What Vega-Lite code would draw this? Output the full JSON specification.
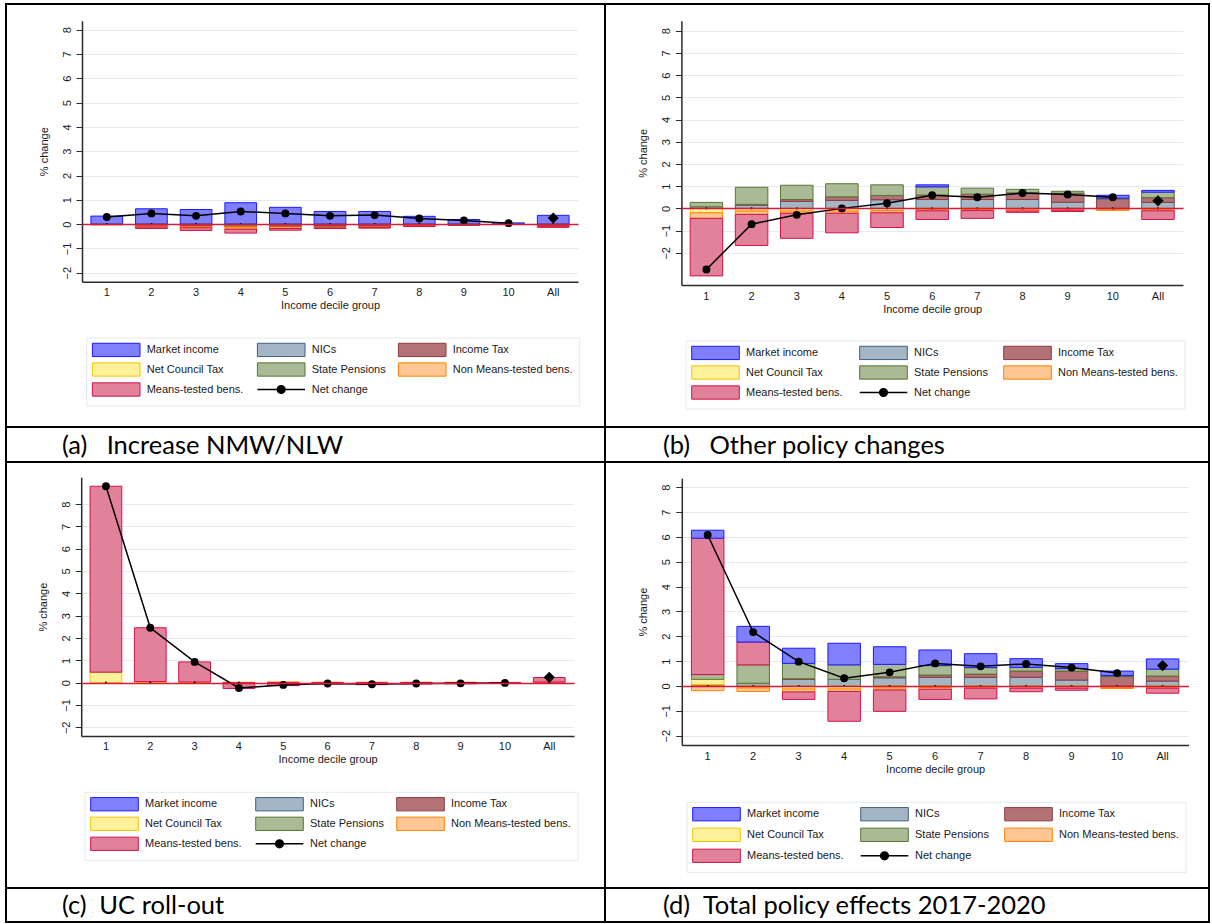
{
  "$schema": "https://vega.github.io/schema/vega-lite/v6.json",
  "background": "#ffffff",
  "padding": {"left": 5, "top": 3, "right": 0, "bottom": 0},
  "columns": 2,
  "spacing": 0,
  "bounds": "flush",
  "align": "each",
  "resolve": {"scale": {"fill": "independent", "stroke": "independent"}, "legend": {"fill": "independent", "stroke": "independent"}},
  "config": {
    "view": {"stroke": "#000000", "strokeWidth": 2},
    "font": "Liberation Sans",
    "axis": {
      "labelFont": "Liberation Sans", "labelFontSize": 11, "labelColor": "#1a1a1a",
      "titleFont": "Liberation Sans", "titleFontSize": 11, "titleFontWeight": "normal", "titleColor": "#1a1a1a",
      "domainColor": "#2a2a2a", "domainWidth": 1.5, "tickColor": "#2a2a2a",
      "gridColor": "#e2ebee", "gridWidth": 1
    },
    "legend": {"labelFont": "Liberation Sans", "labelFontSize": 11, "labelColor": "#1a1a1a"}
  },
  "datasets": {
    "stack_order": [
      {"component": "NICs", "rank": 1},
      {"component": "Income Tax", "rank": 2},
      {"component": "Net Council Tax", "rank": 3},
      {"component": "State Pensions", "rank": 4},
      {"component": "Non Means-tested bens.", "rank": 5},
      {"component": "Means-tested bens.", "rank": 6},
      {"component": "Market income", "rank": 7}
    ],
    "bars": [
      {"panel": "a", "decile": "1", "component": "Market income", "value": 0.33},
      {"panel": "a", "decile": "1", "component": "NICs", "value": -0.02},
      {"panel": "a", "decile": "1", "component": "Non Means-tested bens.", "value": -0.01},
      {"panel": "a", "decile": "2", "component": "Market income", "value": 0.63},
      {"panel": "a", "decile": "2", "component": "NICs", "value": -0.04},
      {"panel": "a", "decile": "2", "component": "Income Tax", "value": -0.04},
      {"panel": "a", "decile": "2", "component": "Non Means-tested bens.", "value": -0.04},
      {"panel": "a", "decile": "2", "component": "Means-tested bens.", "value": -0.06},
      {"panel": "a", "decile": "3", "component": "Market income", "value": 0.6},
      {"panel": "a", "decile": "3", "component": "NICs", "value": -0.05},
      {"panel": "a", "decile": "3", "component": "Income Tax", "value": -0.05},
      {"panel": "a", "decile": "3", "component": "Non Means-tested bens.", "value": -0.05},
      {"panel": "a", "decile": "3", "component": "Means-tested bens.", "value": -0.11},
      {"panel": "a", "decile": "4", "component": "Market income", "value": 0.88},
      {"panel": "a", "decile": "4", "component": "NICs", "value": -0.08},
      {"panel": "a", "decile": "4", "component": "Income Tax", "value": -0.04},
      {"panel": "a", "decile": "4", "component": "Net Council Tax", "value": -0.03},
      {"panel": "a", "decile": "4", "component": "Non Means-tested bens.", "value": -0.06},
      {"panel": "a", "decile": "4", "component": "Means-tested bens.", "value": -0.16},
      {"panel": "a", "decile": "5", "component": "Market income", "value": 0.69},
      {"panel": "a", "decile": "5", "component": "NICs", "value": -0.07},
      {"panel": "a", "decile": "5", "component": "Income Tax", "value": -0.05},
      {"panel": "a", "decile": "5", "component": "Non Means-tested bens.", "value": -0.06},
      {"panel": "a", "decile": "5", "component": "Means-tested bens.", "value": -0.07},
      {"panel": "a", "decile": "6", "component": "Market income", "value": 0.52},
      {"panel": "a", "decile": "6", "component": "NICs", "value": -0.07},
      {"panel": "a", "decile": "6", "component": "Income Tax", "value": -0.06},
      {"panel": "a", "decile": "6", "component": "Non Means-tested bens.", "value": -0.03},
      {"panel": "a", "decile": "6", "component": "Means-tested bens.", "value": -0.02},
      {"panel": "a", "decile": "7", "component": "Market income", "value": 0.52},
      {"panel": "a", "decile": "7", "component": "NICs", "value": -0.07},
      {"panel": "a", "decile": "7", "component": "Income Tax", "value": -0.05},
      {"panel": "a", "decile": "7", "component": "Non Means-tested bens.", "value": -0.03},
      {"panel": "a", "decile": "7", "component": "Means-tested bens.", "value": -0.01},
      {"panel": "a", "decile": "8", "component": "Market income", "value": 0.32},
      {"panel": "a", "decile": "8", "component": "NICs", "value": -0.04},
      {"panel": "a", "decile": "8", "component": "Income Tax", "value": -0.03},
      {"panel": "a", "decile": "8", "component": "Non Means-tested bens.", "value": -0.01},
      {"panel": "a", "decile": "8", "component": "Means-tested bens.", "value": -0.02},
      {"panel": "a", "decile": "9", "component": "Market income", "value": 0.19},
      {"panel": "a", "decile": "9", "component": "NICs", "value": -0.03},
      {"panel": "a", "decile": "9", "component": "Income Tax", "value": -0.02},
      {"panel": "a", "decile": "10", "component": "Market income", "value": 0.05},
      {"panel": "a", "decile": "10", "component": "NICs", "value": -0.01},
      {"panel": "a", "decile": "All", "component": "Market income", "value": 0.36},
      {"panel": "a", "decile": "All", "component": "NICs", "value": -0.05},
      {"panel": "a", "decile": "All", "component": "Income Tax", "value": -0.04},
      {"panel": "a", "decile": "All", "component": "Non Means-tested bens.", "value": -0.02},
      {"panel": "a", "decile": "All", "component": "Means-tested bens.", "value": -0.02},

      {"panel": "b", "decile": "1", "component": "NICs", "value": 0.07},
      {"panel": "b", "decile": "1", "component": "State Pensions", "value": 0.2},
      {"panel": "b", "decile": "1", "component": "Net Council Tax", "value": -0.2},
      {"panel": "b", "decile": "1", "component": "Non Means-tested bens.", "value": -0.25},
      {"panel": "b", "decile": "1", "component": "Means-tested bens.", "value": -2.59},
      {"panel": "b", "decile": "2", "component": "NICs", "value": 0.15},
      {"panel": "b", "decile": "2", "component": "Income Tax", "value": 0.03},
      {"panel": "b", "decile": "2", "component": "State Pensions", "value": 0.77},
      {"panel": "b", "decile": "2", "component": "Net Council Tax", "value": -0.12},
      {"panel": "b", "decile": "2", "component": "Non Means-tested bens.", "value": -0.15},
      {"panel": "b", "decile": "2", "component": "Means-tested bens.", "value": -1.4},
      {"panel": "b", "decile": "3", "component": "NICs", "value": 0.32},
      {"panel": "b", "decile": "3", "component": "Income Tax", "value": 0.08},
      {"panel": "b", "decile": "3", "component": "State Pensions", "value": 0.64},
      {"panel": "b", "decile": "3", "component": "Net Council Tax", "value": -0.12},
      {"panel": "b", "decile": "3", "component": "Non Means-tested bens.", "value": -0.1},
      {"panel": "b", "decile": "3", "component": "Means-tested bens.", "value": -1.13},
      {"panel": "b", "decile": "4", "component": "NICs", "value": 0.36},
      {"panel": "b", "decile": "4", "component": "Income Tax", "value": 0.16},
      {"panel": "b", "decile": "4", "component": "State Pensions", "value": 0.59},
      {"panel": "b", "decile": "4", "component": "Net Council Tax", "value": -0.12},
      {"panel": "b", "decile": "4", "component": "Non Means-tested bens.", "value": -0.1},
      {"panel": "b", "decile": "4", "component": "Means-tested bens.", "value": -0.88},
      {"panel": "b", "decile": "5", "component": "NICs", "value": 0.39},
      {"panel": "b", "decile": "5", "component": "Income Tax", "value": 0.19},
      {"panel": "b", "decile": "5", "component": "State Pensions", "value": 0.48},
      {"panel": "b", "decile": "5", "component": "Net Council Tax", "value": -0.1},
      {"panel": "b", "decile": "5", "component": "Non Means-tested bens.", "value": -0.1},
      {"panel": "b", "decile": "5", "component": "Means-tested bens.", "value": -0.66},
      {"panel": "b", "decile": "6", "component": "NICs", "value": 0.4},
      {"panel": "b", "decile": "6", "component": "Income Tax", "value": 0.2},
      {"panel": "b", "decile": "6", "component": "State Pensions", "value": 0.37},
      {"panel": "b", "decile": "6", "component": "Market income", "value": 0.09},
      {"panel": "b", "decile": "6", "component": "Net Council Tax", "value": -0.06},
      {"panel": "b", "decile": "6", "component": "Non Means-tested bens.", "value": -0.05},
      {"panel": "b", "decile": "6", "component": "Means-tested bens.", "value": -0.39},
      {"panel": "b", "decile": "7", "component": "NICs", "value": 0.4},
      {"panel": "b", "decile": "7", "component": "Income Tax", "value": 0.24},
      {"panel": "b", "decile": "7", "component": "State Pensions", "value": 0.27},
      {"panel": "b", "decile": "7", "component": "Net Council Tax", "value": -0.05},
      {"panel": "b", "decile": "7", "component": "Non Means-tested bens.", "value": -0.05},
      {"panel": "b", "decile": "7", "component": "Means-tested bens.", "value": -0.35},
      {"panel": "b", "decile": "8", "component": "NICs", "value": 0.4},
      {"panel": "b", "decile": "8", "component": "Income Tax", "value": 0.3},
      {"panel": "b", "decile": "8", "component": "State Pensions", "value": 0.16},
      {"panel": "b", "decile": "8", "component": "Net Council Tax", "value": -0.04},
      {"panel": "b", "decile": "8", "component": "Non Means-tested bens.", "value": -0.08},
      {"panel": "b", "decile": "8", "component": "Means-tested bens.", "value": -0.06},
      {"panel": "b", "decile": "9", "component": "NICs", "value": 0.28},
      {"panel": "b", "decile": "9", "component": "Income Tax", "value": 0.4},
      {"panel": "b", "decile": "9", "component": "State Pensions", "value": 0.09},
      {"panel": "b", "decile": "9", "component": "Net Council Tax", "value": -0.02},
      {"panel": "b", "decile": "9", "component": "Non Means-tested bens.", "value": -0.06},
      {"panel": "b", "decile": "9", "component": "Means-tested bens.", "value": -0.06},
      {"panel": "b", "decile": "10", "component": "NICs", "value": -0.01},
      {"panel": "b", "decile": "10", "component": "Income Tax", "value": 0.43},
      {"panel": "b", "decile": "10", "component": "State Pensions", "value": 0.03},
      {"panel": "b", "decile": "10", "component": "Market income", "value": 0.13},
      {"panel": "b", "decile": "10", "component": "Net Council Tax", "value": -0.03},
      {"panel": "b", "decile": "10", "component": "Non Means-tested bens.", "value": -0.05},
      {"panel": "b", "decile": "All", "component": "NICs", "value": 0.27},
      {"panel": "b", "decile": "All", "component": "Income Tax", "value": 0.21},
      {"panel": "b", "decile": "All", "component": "State Pensions", "value": 0.25},
      {"panel": "b", "decile": "All", "component": "Market income", "value": 0.08},
      {"panel": "b", "decile": "All", "component": "Net Council Tax", "value": -0.06},
      {"panel": "b", "decile": "All", "component": "Non Means-tested bens.", "value": -0.05},
      {"panel": "b", "decile": "All", "component": "Means-tested bens.", "value": -0.39},

      {"panel": "c", "decile": "1", "component": "Net Council Tax", "value": 0.47},
      {"panel": "c", "decile": "1", "component": "Means-tested bens.", "value": 8.33},
      {"panel": "c", "decile": "2", "component": "Net Council Tax", "value": 0.05},
      {"panel": "c", "decile": "2", "component": "Means-tested bens.", "value": 2.41},
      {"panel": "c", "decile": "3", "component": "Net Council Tax", "value": 0.03},
      {"panel": "c", "decile": "3", "component": "Means-tested bens.", "value": 0.9},
      {"panel": "c", "decile": "4", "component": "Net Council Tax", "value": 0.02},
      {"panel": "c", "decile": "4", "component": "Means-tested bens.", "value": -0.26},
      {"panel": "c", "decile": "5", "component": "Net Council Tax", "value": 0.01},
      {"panel": "c", "decile": "5", "component": "Non Means-tested bens.", "value": 0.02},
      {"panel": "c", "decile": "5", "component": "Means-tested bens.", "value": -0.13},
      {"panel": "c", "decile": "6", "component": "Non Means-tested bens.", "value": 0.02},
      {"panel": "c", "decile": "6", "component": "Means-tested bens.", "value": -0.06},
      {"panel": "c", "decile": "7", "component": "Non Means-tested bens.", "value": 0.02},
      {"panel": "c", "decile": "7", "component": "Means-tested bens.", "value": -0.09},
      {"panel": "c", "decile": "8", "component": "Non Means-tested bens.", "value": 0.02},
      {"panel": "c", "decile": "8", "component": "Means-tested bens.", "value": -0.06},
      {"panel": "c", "decile": "9", "component": "Non Means-tested bens.", "value": 0.02},
      {"panel": "c", "decile": "9", "component": "Means-tested bens.", "value": -0.05},
      {"panel": "c", "decile": "10", "component": "Non Means-tested bens.", "value": 0.01},
      {"panel": "c", "decile": "10", "component": "Means-tested bens.", "value": -0.02},
      {"panel": "c", "decile": "All", "component": "Non Means-tested bens.", "value": 0.03},
      {"panel": "c", "decile": "All", "component": "Means-tested bens.", "value": 0.2},

      {"panel": "d", "decile": "1", "component": "NICs", "value": 0.06},
      {"panel": "d", "decile": "1", "component": "Net Council Tax", "value": 0.21},
      {"panel": "d", "decile": "1", "component": "State Pensions", "value": 0.19},
      {"panel": "d", "decile": "1", "component": "Means-tested bens.", "value": 5.49},
      {"panel": "d", "decile": "1", "component": "Market income", "value": 0.32},
      {"panel": "d", "decile": "1", "component": "Non Means-tested bens.", "value": -0.19},
      {"panel": "d", "decile": "2", "component": "NICs", "value": 0.11},
      {"panel": "d", "decile": "2", "component": "State Pensions", "value": 0.74},
      {"panel": "d", "decile": "2", "component": "Means-tested bens.", "value": 0.92},
      {"panel": "d", "decile": "2", "component": "Market income", "value": 0.63},
      {"panel": "d", "decile": "2", "component": "Net Council Tax", "value": -0.08},
      {"panel": "d", "decile": "2", "component": "Non Means-tested bens.", "value": -0.14},
      {"panel": "d", "decile": "3", "component": "NICs", "value": 0.27},
      {"panel": "d", "decile": "3", "component": "Income Tax", "value": 0.02},
      {"panel": "d", "decile": "3", "component": "State Pensions", "value": 0.62},
      {"panel": "d", "decile": "3", "component": "Market income", "value": 0.61},
      {"panel": "d", "decile": "3", "component": "Net Council Tax", "value": -0.12},
      {"panel": "d", "decile": "3", "component": "Non Means-tested bens.", "value": -0.12},
      {"panel": "d", "decile": "3", "component": "Means-tested bens.", "value": -0.3},
      {"panel": "d", "decile": "4", "component": "NICs", "value": 0.27},
      {"panel": "d", "decile": "4", "component": "State Pensions", "value": 0.58},
      {"panel": "d", "decile": "4", "component": "Market income", "value": 0.87},
      {"panel": "d", "decile": "4", "component": "Net Council Tax", "value": -0.12},
      {"panel": "d", "decile": "4", "component": "Non Means-tested bens.", "value": -0.1},
      {"panel": "d", "decile": "4", "component": "Means-tested bens.", "value": -1.2},
      {"panel": "d", "decile": "5", "component": "NICs", "value": 0.33},
      {"panel": "d", "decile": "5", "component": "Income Tax", "value": 0.04},
      {"panel": "d", "decile": "5", "component": "State Pensions", "value": 0.5},
      {"panel": "d", "decile": "5", "component": "Market income", "value": 0.71},
      {"panel": "d", "decile": "5", "component": "Net Council Tax", "value": -0.08},
      {"panel": "d", "decile": "5", "component": "Non Means-tested bens.", "value": -0.08},
      {"panel": "d", "decile": "5", "component": "Means-tested bens.", "value": -0.86},
      {"panel": "d", "decile": "6", "component": "NICs", "value": 0.35},
      {"panel": "d", "decile": "6", "component": "Income Tax", "value": 0.09},
      {"panel": "d", "decile": "6", "component": "State Pensions", "value": 0.38},
      {"panel": "d", "decile": "6", "component": "Market income", "value": 0.63},
      {"panel": "d", "decile": "6", "component": "Net Council Tax", "value": -0.06},
      {"panel": "d", "decile": "6", "component": "Non Means-tested bens.", "value": -0.07},
      {"panel": "d", "decile": "6", "component": "Means-tested bens.", "value": -0.41},
      {"panel": "d", "decile": "7", "component": "NICs", "value": 0.35},
      {"panel": "d", "decile": "7", "component": "Income Tax", "value": 0.13},
      {"panel": "d", "decile": "7", "component": "State Pensions", "value": 0.26},
      {"panel": "d", "decile": "7", "component": "Market income", "value": 0.56},
      {"panel": "d", "decile": "7", "component": "Net Council Tax", "value": -0.05},
      {"panel": "d", "decile": "7", "component": "Non Means-tested bens.", "value": -0.04},
      {"panel": "d", "decile": "7", "component": "Means-tested bens.", "value": -0.43},
      {"panel": "d", "decile": "8", "component": "NICs", "value": 0.35},
      {"panel": "d", "decile": "8", "component": "Income Tax", "value": 0.25},
      {"panel": "d", "decile": "8", "component": "State Pensions", "value": 0.15},
      {"panel": "d", "decile": "8", "component": "Market income", "value": 0.35},
      {"panel": "d", "decile": "8", "component": "Net Council Tax", "value": -0.04},
      {"panel": "d", "decile": "8", "component": "Non Means-tested bens.", "value": -0.05},
      {"panel": "d", "decile": "8", "component": "Means-tested bens.", "value": -0.14},
      {"panel": "d", "decile": "9", "component": "NICs", "value": 0.24},
      {"panel": "d", "decile": "9", "component": "Income Tax", "value": 0.36},
      {"panel": "d", "decile": "9", "component": "State Pensions", "value": 0.1},
      {"panel": "d", "decile": "9", "component": "Market income", "value": 0.2},
      {"panel": "d", "decile": "9", "component": "Net Council Tax", "value": -0.03},
      {"panel": "d", "decile": "9", "component": "Non Means-tested bens.", "value": -0.06},
      {"panel": "d", "decile": "9", "component": "Means-tested bens.", "value": -0.08},
      {"panel": "d", "decile": "10", "component": "NICs", "value": -0.04},
      {"panel": "d", "decile": "10", "component": "Income Tax", "value": 0.38},
      {"panel": "d", "decile": "10", "component": "State Pensions", "value": 0.04},
      {"panel": "d", "decile": "10", "component": "Market income", "value": 0.18},
      {"panel": "d", "decile": "10", "component": "Net Council Tax", "value": -0.03},
      {"panel": "d", "decile": "10", "component": "Non Means-tested bens.", "value": -0.03},
      {"panel": "d", "decile": "All", "component": "NICs", "value": 0.2},
      {"panel": "d", "decile": "All", "component": "Income Tax", "value": 0.2},
      {"panel": "d", "decile": "All", "component": "State Pensions", "value": 0.28},
      {"panel": "d", "decile": "All", "component": "Market income", "value": 0.41},
      {"panel": "d", "decile": "All", "component": "Net Council Tax", "value": -0.05},
      {"panel": "d", "decile": "All", "component": "Non Means-tested bens.", "value": -0.04},
      {"panel": "d", "decile": "All", "component": "Means-tested bens.", "value": -0.2}
    ],
    "net": [
      {"panel": "a", "decile": "1", "net": 0.29},
      {"panel": "a", "decile": "2", "net": 0.44},
      {"panel": "a", "decile": "3", "net": 0.34},
      {"panel": "a", "decile": "4", "net": 0.52},
      {"panel": "a", "decile": "5", "net": 0.44},
      {"panel": "a", "decile": "6", "net": 0.34},
      {"panel": "a", "decile": "7", "net": 0.37},
      {"panel": "a", "decile": "8", "net": 0.23},
      {"panel": "a", "decile": "9", "net": 0.15},
      {"panel": "a", "decile": "10", "net": 0.04},
      {"panel": "a", "decile": "All", "net": 0.25},
      {"panel": "b", "decile": "1", "net": -2.75},
      {"panel": "b", "decile": "2", "net": -0.71},
      {"panel": "b", "decile": "3", "net": -0.29},
      {"panel": "b", "decile": "4", "net": 0.0},
      {"panel": "b", "decile": "5", "net": 0.23},
      {"panel": "b", "decile": "6", "net": 0.59},
      {"panel": "b", "decile": "7", "net": 0.5},
      {"panel": "b", "decile": "8", "net": 0.69},
      {"panel": "b", "decile": "9", "net": 0.63},
      {"panel": "b", "decile": "10", "net": 0.5},
      {"panel": "b", "decile": "All", "net": 0.34},
      {"panel": "c", "decile": "1", "net": 8.8},
      {"panel": "c", "decile": "2", "net": 2.46},
      {"panel": "c", "decile": "3", "net": 0.93},
      {"panel": "c", "decile": "4", "net": -0.24},
      {"panel": "c", "decile": "5", "net": -0.1},
      {"panel": "c", "decile": "6", "net": -0.04},
      {"panel": "c", "decile": "7", "net": -0.07},
      {"panel": "c", "decile": "8", "net": -0.04},
      {"panel": "c", "decile": "9", "net": -0.03},
      {"panel": "c", "decile": "10", "net": -0.01},
      {"panel": "c", "decile": "All", "net": 0.24},
      {"panel": "d", "decile": "1", "net": 6.08},
      {"panel": "d", "decile": "2", "net": 2.17},
      {"panel": "d", "decile": "3", "net": 0.98},
      {"panel": "d", "decile": "4", "net": 0.31},
      {"panel": "d", "decile": "5", "net": 0.55},
      {"panel": "d", "decile": "6", "net": 0.91},
      {"panel": "d", "decile": "7", "net": 0.79},
      {"panel": "d", "decile": "8", "net": 0.89},
      {"panel": "d", "decile": "9", "net": 0.74},
      {"panel": "d", "decile": "10", "net": 0.52},
      {"panel": "d", "decile": "All", "net": 0.82}
    ]
  },
  "concat": [
    {
      "width": 599, "height": 423,
      "resolve": {"scale": {"y": "independent"}},
      "layer": [
        {
          "data": {"name": "bars"},
          "transform": [
            {"filter": "datum.panel === 'a'"},
            {"lookup": "component", "from": {"data": {"name": "stack_order"}, "key": "component", "fields": ["rank"]}}
          ],
          "mark": {"type": "bar", "strokeWidth": 1},
          "encoding": {
            "x": {"field": "decile", "type": "ordinal", "title": "Income decile group",
              "scale": {"domain": ["1","2","3","4","5","6","7","8","9","10","All"], "range": [76, 572], "paddingInner": 0.29, "paddingOuter": 0.2},
              "axis": {"orient": "bottom", "offset": -145.3, "ticks": false, "labelAngle": 0, "labelPadding": 4.5, "grid": false, "titlePadding": 2}},
            "y": {"field": "value", "type": "quantitative", "stack": "zero",
              "scale": {"domain": [-2.37, 8.37], "range": [277.7, 16.7], "nice": false, "zero": false},
              "axis": {"orient": "left", "offset": -76, "values": [-2,-1,0,1,2,3,4,5,6,7,8], "grid": true, "tickSize": 6, "tickWidth": 1, "labelAngle": -90, "labelAlign": "center", "labelBaseline": "bottom", "labelPadding": 4, "title": "% change", "titlePadding": 12}},
            "fill": {"field": "component", "type": "nominal",
              "scale": {"domain": ["Market income","NICs","Income Tax","Net Council Tax","State Pensions","Non Means-tested bens.","Means-tested bens.","Net change"],
                        "range": ["#8080ff","#a4b5c6","#b37276","#fff09a","#aaba97","#ffc794","#e1819a","#000000"]},
              "legend": {"orient": "none", "legendX": 80.2, "legendY": 333.5, "title": null, "columns": 3, "direction": "horizontal", "gridAlign": "each",
                "symbolSize": 196, "symbolOffset": 18, "symbolStrokeWidth": 1, "labelOffset": 25, "labelLimit": 0,
                "columnPadding": 10, "rowPadding": 1, "padding": 6.5, "strokeColor": "#e3ebee", "fillColor": "#ffffff",
                "encode": {"symbols": {"update": {
                  "shape": {"signal": "datum.value === 'Net change' ? 'M-3.4,0H3.4M-0.55,0A0.55,0.55 0 1,1 0.55,0A0.55,0.55 0 1,1 -0.55,0Z' : 'M-3.4,-0.95H3.4V0.95H-3.4Z'"},
                  "stroke": {"signal": "datum.value === 'Market income' ? '#1a1aff' : datum.value === 'NICs' ? '#3e6080' : datum.value === 'Income Tax' ? '#8f3a3f' : datum.value === 'Net Council Tax' ? '#f2c400' : datum.value === 'State Pensions' ? '#56772f' : datum.value === 'Non Means-tested bens.' ? '#ff8000' : datum.value === 'Means-tested bens.' ? '#d3124a' : '#000000'"},
                  "strokeWidth": {"signal": "datum.value === 'Net change' ? 1.5 : 1"}}}}}},
            "stroke": {"field": "component", "type": "nominal", "legend": null,
              "scale": {"domain": ["Market income","NICs","Income Tax","Net Council Tax","State Pensions","Non Means-tested bens.","Means-tested bens.","Net change"],
                        "range": ["#1a1aff","#3e6080","#8f3a3f","#f2c400","#56772f","#ff8000","#d3124a","#000000"]}},
            "order": {"field": "rank", "type": "quantitative"}
          }
        },
        {
          "data": {"name": "net"},
          "transform": [{"filter": "datum.panel === 'a'"}],
          "mark": {"type": "point", "filled": true, "color": "#000000", "opacity": 1, "size": 5},
          "encoding": {
            "x": {"field": "decile", "type": "ordinal", "title": "Income decile group"},
            "y": {"datum": 0, "type": "quantitative",
              "scale": {"domain": [-2.37, 8.37], "range": [277.7, 16.7], "nice": false, "zero": false},
              "axis": {"orient": "left", "offset": -76, "values": [0], "grid": true, "gridColor": "#d8193f", "gridWidth": 1.5, "domain": false, "ticks": false, "labels": false, "title": null, "zindex": 1}}
          }
        },
        {
          "data": {"name": "net"},
          "transform": [{"filter": "datum.panel === 'a' && datum.decile !== 'All'"}],
          "mark": {"type": "line", "color": "#000000", "strokeWidth": 1.5},
          "encoding": {
            "x": {"field": "decile", "type": "ordinal", "title": "Income decile group"},
            "y": {"field": "net", "type": "quantitative", "scale": {"domain": [-2.37, 8.37], "range": [277.7, 16.7], "nice": false, "zero": false}, "axis": null},
            "order": {"value": null}
          }
        },
        {
          "data": {"name": "net"},
          "transform": [{"filter": "datum.panel === 'a'"}],
          "mark": {"type": "point", "filled": true, "color": "#000000", "opacity": 1},
          "encoding": {
            "x": {"field": "decile", "type": "ordinal", "title": "Income decile group"},
            "y": {"field": "net", "type": "quantitative", "scale": {"domain": [-2.37, 8.37], "range": [277.7, 16.7], "nice": false, "zero": false}, "axis": null},
            "shape": {"condition": {"test": "datum.decile === 'All'", "value": "diamond"}, "value": "circle"},
            "size": {"condition": {"test": "datum.decile === 'All'", "value": 125}, "value": 62}
          }
        }
      ]
    },
    {
      "width": 604, "height": 423,
      "resolve": {"scale": {"y": "independent"}},
      "layer": [
        {
          "data": {"name": "bars"},
          "transform": [
            {"filter": "datum.panel === 'b'"},
            {"lookup": "component", "from": {"data": {"name": "stack_order"}, "key": "component", "fields": ["rank"]}}
          ],
          "mark": {"type": "bar", "strokeWidth": 1},
          "encoding": {
            "x": {"field": "decile", "type": "ordinal", "title": "Income decile group",
              "scale": {"domain": ["1","2","3","4","5","6","7","8","9","10","All"], "range": [76.4, 578], "paddingInner": 0.28, "paddingOuter": 0.194},
              "axis": {"orient": "bottom", "offset": -142, "ticks": false, "labelAngle": 0, "labelPadding": 5, "grid": false, "titlePadding": 2}},
            "y": {"field": "value", "type": "quantitative", "stack": "zero",
              "scale": {"domain": [-3.45, 8.45], "range": [281, 16.7], "nice": false, "zero": false},
              "axis": {"orient": "left", "offset": -76.4, "values": [-2,-1,0,1,2,3,4,5,6,7,8], "grid": true, "tickSize": 6, "tickWidth": 1, "labelAngle": -90, "labelAlign": "center", "labelBaseline": "bottom", "labelPadding": 4, "title": "% change", "titlePadding": 12}},
            "fill": {"field": "component", "type": "nominal",
              "scale": {"domain": ["Market income","NICs","Income Tax","Net Council Tax","State Pensions","Non Means-tested bens.","Means-tested bens.","Net change"],
                        "range": ["#8080ff","#a4b5c6","#b37276","#fff09a","#aaba97","#ffc794","#e1819a","#000000"]},
              "legend": {"orient": "none", "legendX": 80.5, "legendY": 336.5, "title": null, "columns": 3, "direction": "horizontal", "gridAlign": "each",
                "symbolSize": 196, "symbolOffset": 18, "symbolStrokeWidth": 1, "labelOffset": 25, "labelLimit": 0,
                "columnPadding": 13, "rowPadding": 1, "padding": 6.5, "strokeColor": "#e3ebee", "fillColor": "#ffffff",
                "encode": {"symbols": {"update": {
                  "shape": {"signal": "datum.value === 'Net change' ? 'M-3.4,0H3.4M-0.55,0A0.55,0.55 0 1,1 0.55,0A0.55,0.55 0 1,1 -0.55,0Z' : 'M-3.4,-0.95H3.4V0.95H-3.4Z'"},
                  "stroke": {"signal": "datum.value === 'Market income' ? '#1a1aff' : datum.value === 'NICs' ? '#3e6080' : datum.value === 'Income Tax' ? '#8f3a3f' : datum.value === 'Net Council Tax' ? '#f2c400' : datum.value === 'State Pensions' ? '#56772f' : datum.value === 'Non Means-tested bens.' ? '#ff8000' : datum.value === 'Means-tested bens.' ? '#d3124a' : '#000000'"},
                  "strokeWidth": {"signal": "datum.value === 'Net change' ? 1.5 : 1"}}}}}},
            "stroke": {"field": "component", "type": "nominal", "legend": null,
              "scale": {"domain": ["Market income","NICs","Income Tax","Net Council Tax","State Pensions","Non Means-tested bens.","Means-tested bens.","Net change"],
                        "range": ["#1a1aff","#3e6080","#8f3a3f","#f2c400","#56772f","#ff8000","#d3124a","#000000"]}},
            "order": {"field": "rank", "type": "quantitative"}
          }
        },
        {
          "data": {"name": "net"},
          "transform": [{"filter": "datum.panel === 'b'"}],
          "mark": {"type": "point", "filled": true, "color": "#000000", "opacity": 1, "size": 5},
          "encoding": {
            "x": {"field": "decile", "type": "ordinal", "title": "Income decile group"},
            "y": {"datum": 0, "type": "quantitative",
              "scale": {"domain": [-3.45, 8.45], "range": [281, 16.7], "nice": false, "zero": false},
              "axis": {"orient": "left", "offset": -76.4, "values": [0], "grid": true, "gridColor": "#d8193f", "gridWidth": 1.5, "domain": false, "ticks": false, "labels": false, "title": null, "zindex": 1}}
          }
        },
        {
          "data": {"name": "net"},
          "transform": [{"filter": "datum.panel === 'b' && datum.decile !== 'All'"}],
          "mark": {"type": "line", "color": "#000000", "strokeWidth": 1.5},
          "encoding": {
            "x": {"field": "decile", "type": "ordinal", "title": "Income decile group"},
            "y": {"field": "net", "type": "quantitative", "scale": {"domain": [-3.45, 8.45], "range": [281, 16.7], "nice": false, "zero": false}, "axis": null},
            "order": {"value": null}
          }
        },
        {
          "data": {"name": "net"},
          "transform": [{"filter": "datum.panel === 'b'"}],
          "mark": {"type": "point", "filled": true, "color": "#000000", "opacity": 1},
          "encoding": {
            "x": {"field": "decile", "type": "ordinal", "title": "Income decile group"},
            "y": {"field": "net", "type": "quantitative", "scale": {"domain": [-3.45, 8.45], "range": [281, 16.7], "nice": false, "zero": false}, "axis": null},
            "shape": {"condition": {"test": "datum.decile === 'All'", "value": "diamond"}, "value": "circle"},
            "size": {"condition": {"test": "datum.decile === 'All'", "value": 125}, "value": 62}
          }
        }
      ]
    },
    {
      "width": 599, "height": 35,
      "data": {"values": [{"caption": "(a)\u2002\u00a0Increase NMW/NLW"}]},
      "mark": {"type": "text", "align": "left", "baseline": "middle", "dy": 1, "font": "Lato", "fontSize": 25.5, "color": "#000000"},
      "encoding": {
        "x": {"datum": 0, "type": "quantitative", "scale": {"domain": [0, 1], "range": [56, 599]}, "axis": null},
        "y": {"datum": 0, "type": "quantitative", "scale": {"domain": [-1, 1], "range": [35, 0]}, "axis": null},
        "text": {"field": "caption", "type": "nominal"}
      }
    },
    {
      "width": 604, "height": 35,
      "data": {"values": [{"caption": "(b)\u2002\u00a0Other policy changes"}]},
      "mark": {"type": "text", "align": "left", "baseline": "middle", "dy": 1, "font": "Lato", "fontSize": 25.5, "color": "#000000"},
      "encoding": {
        "x": {"datum": 0, "type": "quantitative", "scale": {"domain": [0, 1], "range": [58, 604]}, "axis": null},
        "y": {"datum": 0, "type": "quantitative", "scale": {"domain": [-1, 1], "range": [35, 0]}, "axis": null},
        "text": {"field": "caption", "type": "nominal"}
      }
    },
    {
      "width": 599, "height": 426,
      "resolve": {"scale": {"y": "independent"}},
      "layer": [
        {
          "data": {"name": "bars"},
          "transform": [
            {"filter": "datum.panel === 'c'"},
            {"lookup": "component", "from": {"data": {"name": "stack_order"}, "key": "component", "fields": ["rank"]}}
          ],
          "mark": {"type": "bar", "strokeWidth": 1},
          "encoding": {
            "x": {"field": "decile", "type": "ordinal", "title": "Income decile group",
              "scale": {"domain": ["1","2","3","4","5","6","7","8","9","10","All"], "range": [75.2, 568], "paddingInner": 0.284, "paddingOuter": 0.2},
              "axis": {"orient": "bottom", "offset": -152, "ticks": false, "labelAngle": 0, "labelPadding": 4.5, "grid": false, "titlePadding": 2}},
            "y": {"field": "value", "type": "quantitative", "stack": "zero",
              "scale": {"domain": [-2.39, 9.2], "range": [274, 15.3], "nice": false, "zero": false},
              "axis": {"orient": "left", "offset": -75.2, "values": [-2,-1,0,1,2,3,4,5,6,7,8], "grid": true, "tickSize": 6, "tickWidth": 1, "labelAngle": -90, "labelAlign": "center", "labelBaseline": "bottom", "labelPadding": 4, "title": "% change", "titlePadding": 12}},
            "fill": {"field": "component", "type": "nominal",
              "scale": {"domain": ["Market income","NICs","Income Tax","Net Council Tax","State Pensions","Non Means-tested bens.","Means-tested bens.","Net change"],
                        "range": ["#8080ff","#a4b5c6","#b37276","#fff09a","#aaba97","#ffc794","#e1819a","#000000"]},
              "legend": {"orient": "none", "legendX": 78.5, "legendY": 329.8, "title": null, "columns": 3, "direction": "horizontal", "gridAlign": "each",
                "symbolSize": 196, "symbolOffset": 18, "symbolStrokeWidth": 1, "labelOffset": 25, "labelLimit": 0,
                "columnPadding": 10, "rowPadding": 1, "padding": 6.5, "strokeColor": "#e3ebee", "fillColor": "#ffffff",
                "encode": {"symbols": {"update": {
                  "shape": {"signal": "datum.value === 'Net change' ? 'M-3.4,0H3.4M-0.55,0A0.55,0.55 0 1,1 0.55,0A0.55,0.55 0 1,1 -0.55,0Z' : 'M-3.4,-0.95H3.4V0.95H-3.4Z'"},
                  "stroke": {"signal": "datum.value === 'Market income' ? '#1a1aff' : datum.value === 'NICs' ? '#3e6080' : datum.value === 'Income Tax' ? '#8f3a3f' : datum.value === 'Net Council Tax' ? '#f2c400' : datum.value === 'State Pensions' ? '#56772f' : datum.value === 'Non Means-tested bens.' ? '#ff8000' : datum.value === 'Means-tested bens.' ? '#d3124a' : '#000000'"},
                  "strokeWidth": {"signal": "datum.value === 'Net change' ? 1.5 : 1"}}}}}},
            "stroke": {"field": "component", "type": "nominal", "legend": null,
              "scale": {"domain": ["Market income","NICs","Income Tax","Net Council Tax","State Pensions","Non Means-tested bens.","Means-tested bens.","Net change"],
                        "range": ["#1a1aff","#3e6080","#8f3a3f","#f2c400","#56772f","#ff8000","#d3124a","#000000"]}},
            "order": {"field": "rank", "type": "quantitative"}
          }
        },
        {
          "data": {"name": "net"},
          "transform": [{"filter": "datum.panel === 'c'"}],
          "mark": {"type": "point", "filled": true, "color": "#000000", "opacity": 1, "size": 5},
          "encoding": {
            "x": {"field": "decile", "type": "ordinal", "title": "Income decile group"},
            "y": {"datum": 0, "type": "quantitative",
              "scale": {"domain": [-2.39, 9.2], "range": [274, 15.3], "nice": false, "zero": false},
              "axis": {"orient": "left", "offset": -75.2, "values": [0], "grid": true, "gridColor": "#d8193f", "gridWidth": 1.5, "domain": false, "ticks": false, "labels": false, "title": null, "zindex": 1}}
          }
        },
        {
          "data": {"name": "net"},
          "transform": [{"filter": "datum.panel === 'c' && datum.decile !== 'All'"}],
          "mark": {"type": "line", "color": "#000000", "strokeWidth": 1.5},
          "encoding": {
            "x": {"field": "decile", "type": "ordinal", "title": "Income decile group"},
            "y": {"field": "net", "type": "quantitative", "scale": {"domain": [-2.39, 9.2], "range": [274, 15.3], "nice": false, "zero": false}, "axis": null},
            "order": {"value": null}
          }
        },
        {
          "data": {"name": "net"},
          "transform": [{"filter": "datum.panel === 'c'"}],
          "mark": {"type": "point", "filled": true, "color": "#000000", "opacity": 1},
          "encoding": {
            "x": {"field": "decile", "type": "ordinal", "title": "Income decile group"},
            "y": {"field": "net", "type": "quantitative", "scale": {"domain": [-2.39, 9.2], "range": [274, 15.3], "nice": false, "zero": false}, "axis": null},
            "shape": {"condition": {"test": "datum.decile === 'All'", "value": "diamond"}, "value": "circle"},
            "size": {"condition": {"test": "datum.decile === 'All'", "value": 125}, "value": 62}
          }
        }
      ]
    },
    {
      "width": 604, "height": 426,
      "resolve": {"scale": {"y": "independent"}},
      "layer": [
        {
          "data": {"name": "bars"},
          "transform": [
            {"filter": "datum.panel === 'd'"},
            {"lookup": "component", "from": {"data": {"name": "stack_order"}, "key": "component", "fields": ["rank"]}}
          ],
          "mark": {"type": "bar", "strokeWidth": 1},
          "encoding": {
            "x": {"field": "decile", "type": "ordinal", "title": "Income decile group",
              "scale": {"domain": ["1","2","3","4","5","6","7","8","9","10","All"], "range": [76.8, 583.5], "paddingInner": 0.286, "paddingOuter": 0.212},
              "axis": {"orient": "bottom", "offset": -143, "ticks": false, "labelAngle": 0, "labelPadding": 5, "grid": false, "titlePadding": 2}},
            "y": {"field": "value", "type": "quantitative", "stack": "zero",
              "scale": {"domain": [-2.375, 8.36], "range": [283, 16.3], "nice": false, "zero": false},
              "axis": {"orient": "left", "offset": -76.8, "values": [-2,-1,0,1,2,3,4,5,6,7,8], "grid": true, "tickSize": 6, "tickWidth": 1, "labelAngle": -90, "labelAlign": "center", "labelBaseline": "bottom", "labelPadding": 4, "title": "% change", "titlePadding": 12}},
            "fill": {"field": "component", "type": "nominal",
              "scale": {"domain": ["Market income","NICs","Income Tax","Net Council Tax","State Pensions","Non Means-tested bens.","Means-tested bens.","Net change"],
                        "range": ["#8080ff","#a4b5c6","#b37276","#fff09a","#aaba97","#ffc794","#e1819a","#000000"]},
              "legend": {"orient": "none", "legendX": 81.5, "legendY": 339.8, "title": null, "columns": 3, "direction": "horizontal", "gridAlign": "each",
                "symbolSize": 196, "symbolOffset": 18, "symbolStrokeWidth": 1, "labelOffset": 25, "labelLimit": 0,
                "columnPadding": 13, "rowPadding": 2, "padding": 6.5, "strokeColor": "#e3ebee", "fillColor": "#ffffff",
                "encode": {"symbols": {"update": {
                  "shape": {"signal": "datum.value === 'Net change' ? 'M-3.4,0H3.4M-0.55,0A0.55,0.55 0 1,1 0.55,0A0.55,0.55 0 1,1 -0.55,0Z' : 'M-3.4,-0.95H3.4V0.95H-3.4Z'"},
                  "stroke": {"signal": "datum.value === 'Market income' ? '#1a1aff' : datum.value === 'NICs' ? '#3e6080' : datum.value === 'Income Tax' ? '#8f3a3f' : datum.value === 'Net Council Tax' ? '#f2c400' : datum.value === 'State Pensions' ? '#56772f' : datum.value === 'Non Means-tested bens.' ? '#ff8000' : datum.value === 'Means-tested bens.' ? '#d3124a' : '#000000'"},
                  "strokeWidth": {"signal": "datum.value === 'Net change' ? 1.5 : 1"}}}}}},
            "stroke": {"field": "component", "type": "nominal", "legend": null,
              "scale": {"domain": ["Market income","NICs","Income Tax","Net Council Tax","State Pensions","Non Means-tested bens.","Means-tested bens.","Net change"],
                        "range": ["#1a1aff","#3e6080","#8f3a3f","#f2c400","#56772f","#ff8000","#d3124a","#000000"]}},
            "order": {"field": "rank", "type": "quantitative"}
          }
        },
        {
          "data": {"name": "net"},
          "transform": [{"filter": "datum.panel === 'd'"}],
          "mark": {"type": "point", "filled": true, "color": "#000000", "opacity": 1, "size": 5},
          "encoding": {
            "x": {"field": "decile", "type": "ordinal", "title": "Income decile group"},
            "y": {"datum": 0, "type": "quantitative",
              "scale": {"domain": [-2.375, 8.36], "range": [283, 16.3], "nice": false, "zero": false},
              "axis": {"orient": "left", "offset": -76.8, "values": [0], "grid": true, "gridColor": "#d8193f", "gridWidth": 1.5, "domain": false, "ticks": false, "labels": false, "title": null, "zindex": 1}}
          }
        },
        {
          "data": {"name": "net"},
          "transform": [{"filter": "datum.panel === 'd' && datum.decile !== 'All'"}],
          "mark": {"type": "line", "color": "#000000", "strokeWidth": 1.5},
          "encoding": {
            "x": {"field": "decile", "type": "ordinal", "title": "Income decile group"},
            "y": {"field": "net", "type": "quantitative", "scale": {"domain": [-2.375, 8.36], "range": [283, 16.3], "nice": false, "zero": false}, "axis": null},
            "order": {"value": null}
          }
        },
        {
          "data": {"name": "net"},
          "transform": [{"filter": "datum.panel === 'd'"}],
          "mark": {"type": "point", "filled": true, "color": "#000000", "opacity": 1},
          "encoding": {
            "x": {"field": "decile", "type": "ordinal", "title": "Income decile group"},
            "y": {"field": "net", "type": "quantitative", "scale": {"domain": [-2.375, 8.36], "range": [283, 16.3], "nice": false, "zero": false}, "axis": null},
            "shape": {"condition": {"test": "datum.decile === 'All'", "value": "diamond"}, "value": "circle"},
            "size": {"condition": {"test": "datum.decile === 'All'", "value": 125}, "value": 62}
          }
        }
      ]
    },
    {
      "width": 599, "height": 34,
      "data": {"values": [{"caption": "(c)\u2002UC roll-out"}]},
      "mark": {"type": "text", "align": "left", "baseline": "middle", "dy": 1, "font": "Lato", "fontSize": 25.5, "color": "#000000"},
      "encoding": {
        "x": {"datum": 0, "type": "quantitative", "scale": {"domain": [0, 1], "range": [56, 599]}, "axis": null},
        "y": {"datum": 0, "type": "quantitative", "scale": {"domain": [-1, 1], "range": [34, 0]}, "axis": null},
        "text": {"field": "caption", "type": "nominal"}
      }
    },
    {
      "width": 604, "height": 34,
      "data": {"values": [{"caption": "(d)\u2002Total policy effects 2017-2020"}]},
      "mark": {"type": "text", "align": "left", "baseline": "middle", "dy": 1, "font": "Lato", "fontSize": 25.5, "color": "#000000"},
      "encoding": {
        "x": {"datum": 0, "type": "quantitative", "scale": {"domain": [0, 1], "range": [58, 604]}, "axis": null},
        "y": {"datum": 0, "type": "quantitative", "scale": {"domain": [-1, 1], "range": [34, 0]}, "axis": null},
        "text": {"field": "caption", "type": "nominal"}
      }
    }
  ]
}
